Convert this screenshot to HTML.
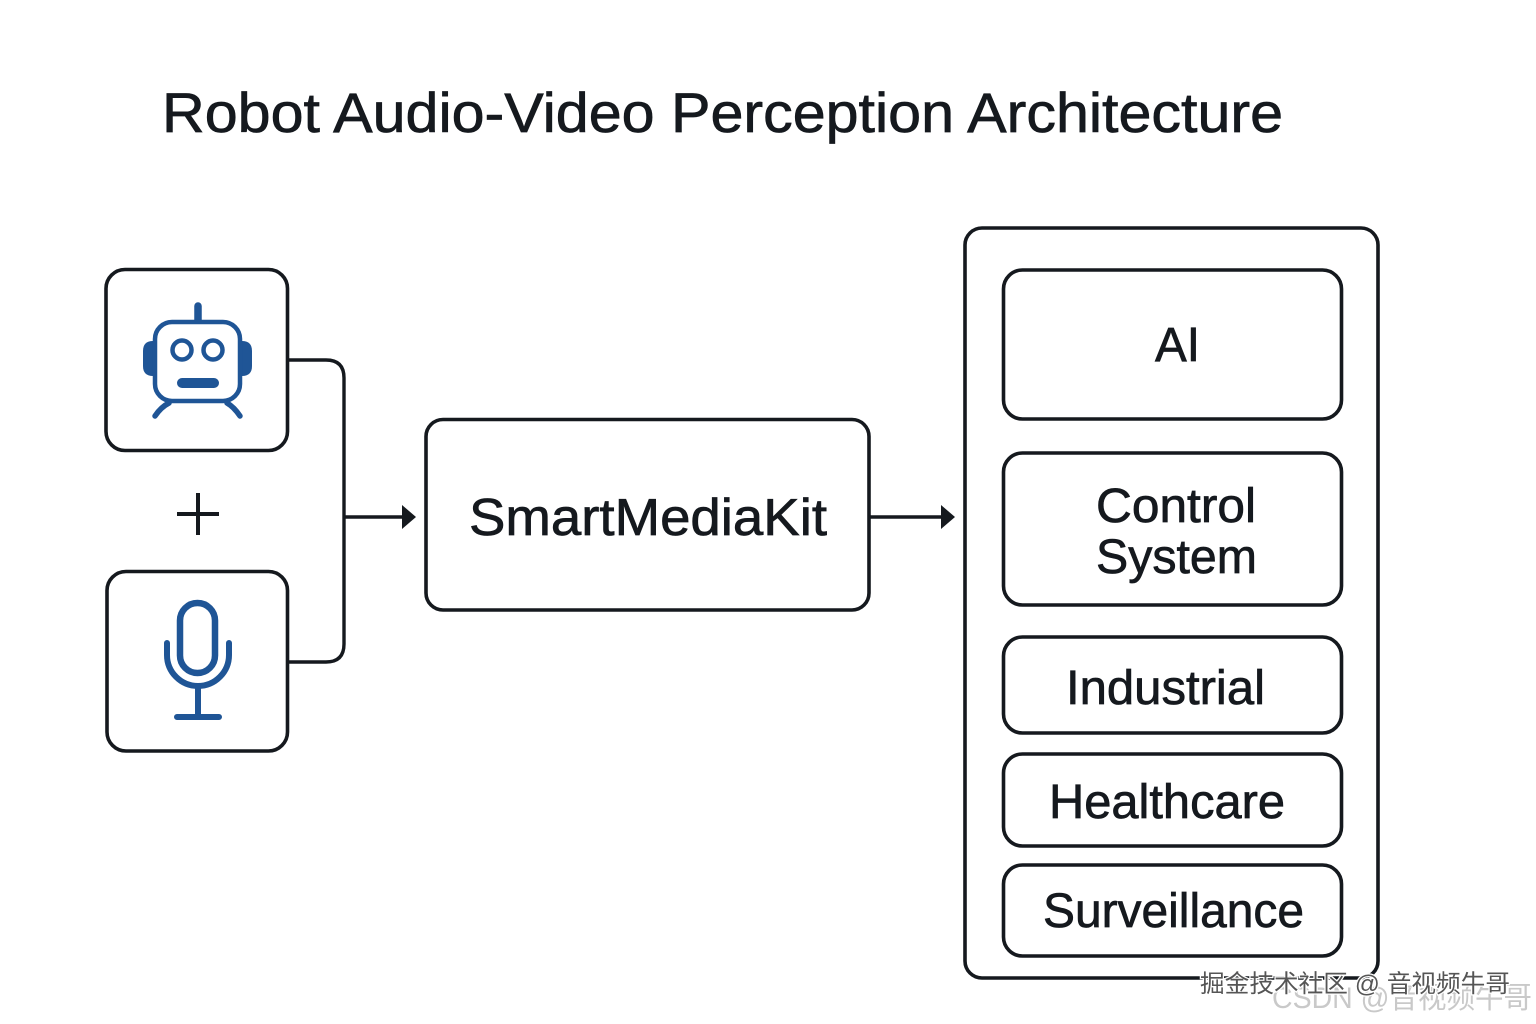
<!DOCTYPE html>
<html lang="en">
<head>
<meta charset="utf-8">
<title>Robot Audio-Video Perception Architecture</title>
<style>
html,body{margin:0;padding:0;background:#fff;width:1536px;height:1024px;overflow:hidden}
svg{display:block}
text{font-family:"Liberation Sans","Noto Sans CJK SC",sans-serif;fill:#15191e;stroke:#15191e;stroke-width:.7px}
.b{fill:#fff;stroke:#15191e;stroke-width:3.6}
.l{fill:none;stroke:#15191e;stroke-width:3.4}
.i{fill:none;stroke:#1f5596;stroke-linecap:round}
.f{fill:#1f5596}
</style>
</head>
<body>
<svg width="1536" height="1024" viewBox="0 0 1536 1024" xmlns="http://www.w3.org/2000/svg">
<rect width="1536" height="1024" fill="#fff"/>
<text x="162" y="132" font-size="56" textLength="1121" lengthAdjust="spacingAndGlyphs">Robot Audio-Video Perception Architecture</text>

<!-- connectors -->
<path class="l" d="M288 360H326Q344 360 344 378V644Q344 662 326 662H288"/>
<path class="l" d="M344 517H404"/>
<polygon points="402,505 416,517 402,529" fill="#15191e"/>
<path class="l" d="M869 517H943"/>
<polygon points="941,505 955,517 941,529" fill="#15191e"/>

<!-- robot box -->
<rect class="b" x="106" y="269.500" width="181.500" height="181" rx="19"/>
<path class="i" stroke-width="7.500" d="M198 306V322"/>
<path class="f" d="M153 341h3v35h-3q-10 0-10-10v-15q0-10 10-10z"/>
<path class="f" d="M242 341h-3v35h3q10 0 10-10v-15q0-10-10-10z"/>
<rect x="155" y="322" width="85" height="79" rx="17" fill="#fff" stroke="#1f5596" stroke-width="4.500"/>
<circle cx="182" cy="350" r="9.500" fill="#fff" stroke="#1f5596" stroke-width="4.500"/>
<circle cx="213" cy="350" r="9.500" fill="#fff" stroke="#1f5596" stroke-width="4.500"/>
<rect class="f" x="177" y="378" width="42" height="10" rx="5"/>
<path class="i" stroke-width="5.500" d="M169 403Q161 407 155 416"/>
<path class="i" stroke-width="5.500" d="M227 403Q234 407 240 416"/>

<!-- plus -->
<path d="M198 493V535M177 514H219" fill="none" stroke="#15191e" stroke-width="4"/>

<!-- mic box -->
<rect class="b" x="107" y="571.500" width="180.500" height="179.500" rx="19"/>
<rect x="180" y="603" width="35" height="70" rx="17.500" fill="#fff" stroke="#1f5596" stroke-width="6.500"/>
<path class="i" stroke-width="6" d="M167 643V655A31 31 0 0 0 229 655V643"/>
<path class="i" stroke-width="6" d="M198 686V717M177 717H219"/>

<!-- middle box -->
<rect class="b" x="426" y="419.500" width="443" height="190.500" rx="17"/>
<text x="469" y="535" font-size="52" textLength="358" lengthAdjust="spacingAndGlyphs">SmartMediaKit</text>

<!-- right container -->
<rect class="b" x="965" y="228" width="413" height="750" rx="17"/>
<rect class="b" x="1003.500" y="270" width="338" height="149" rx="19"/>
<rect class="b" x="1003.500" y="453" width="338" height="152" rx="19"/>
<rect class="b" x="1003.500" y="637" width="338" height="96" rx="19"/>
<rect class="b" x="1003.500" y="754" width="338" height="92" rx="19"/>
<rect class="b" x="1003.500" y="865" width="338" height="91" rx="19"/>

<text x="1155" y="361" font-size="48" textLength="45" lengthAdjust="spacingAndGlyphs">AI</text>
<text x="1096" y="522" font-size="48" textLength="160" lengthAdjust="spacingAndGlyphs">Control</text>
<text x="1096" y="573" font-size="48" textLength="161" lengthAdjust="spacingAndGlyphs">System</text>
<text x="1066" y="704" font-size="48" textLength="199" lengthAdjust="spacingAndGlyphs">Industrial</text>
<text x="1049" y="818" font-size="48" textLength="236" lengthAdjust="spacingAndGlyphs">Healthcare</text>
<text x="1043" y="927" font-size="48" textLength="261" lengthAdjust="spacingAndGlyphs">Surveillance</text>

<!-- watermarks -->
<text x="1272" y="1008" font-size="30" textLength="260" lengthAdjust="spacingAndGlyphs" style="fill:#c9c9c9;stroke:none">CSDN @音视频牛哥</text>
<text x="1200" y="992" font-size="24.500" textLength="310" lengthAdjust="spacingAndGlyphs" style="fill:#555;stroke:#fff;stroke-width:2.500px;paint-order:stroke">掘金技术社区 @ 音视频牛哥</text>
</svg>
</body>
</html>
